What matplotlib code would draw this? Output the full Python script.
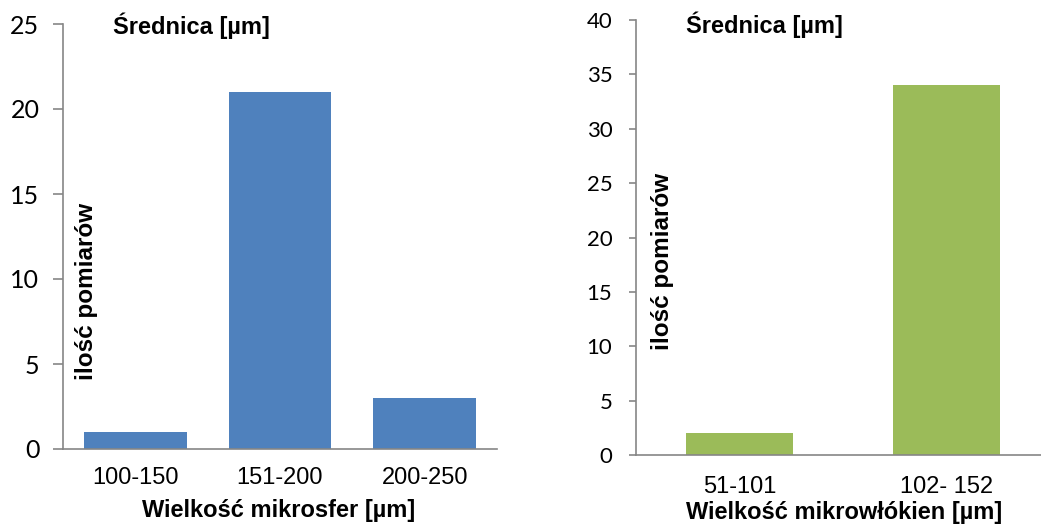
import matplotlib
matplotlib.use("Agg")
import matplotlib.pyplot as plt

# microsphere diameters
sphere_bins = ["100-150", "151-200", "200-250"]
sphere_counts = [1, 21, 3]

# microfibre diameters
fibre_bins = ["51-101", "102- 152"]
fibre_counts = [2, 34]

W, H = 1041, 528
fig = plt.figure(figsize=(W / 100, H / 100), dpi=100)

num_font = "Lato"
txt_font = "Liberation Sans"
axis_grey = "#868686"


def setup(ax, ymax, step, tick_size, tick_len, xpad):
    for s in ["top", "right"]:
        ax.spines[s].set_visible(False)
    for s in ["left", "bottom"]:
        ax.spines[s].set_color(axis_grey)
        ax.spines[s].set_linewidth(1.2)
    ax.set_ylim(0, ymax)
    ax.set_yticks(range(0, ymax + 1, step))
    ax.tick_params(axis="y", direction="out", length=tick_len, color=axis_grey, width=1.2,
                   labelsize=tick_size, pad=17 - tick_len)
    ax.tick_params(axis="x", length=0, labelsize=17, pad=xpad)
    for lb in ax.get_yticklabels():
        lb.set_fontfamily(num_font)
    for lb in ax.get_xticklabels():
        lb.set_fontfamily(txt_font)


# left panel
ax1 = fig.add_axes([63 / W, (H - 449) / H, (497 - 63) / W, (449 - 24) / H])
ax1.bar(range(len(sphere_counts)), sphere_counts, width=0.71, color="#4F81BD")
ax1.set_xlim(-0.5, len(sphere_counts) - 0.5)
ax1.set_xticks(range(len(sphere_bins)))
ax1.set_xticklabels(sphere_bins)
setup(ax1, 25, 5, 18, 7, 13)
ax1.text(0.115, 0.995, "Średnica [µm]", transform=ax1.transAxes, ha="left", va="center",
         fontsize=17, fontweight="bold", family=txt_font)
ax1.text(0.053, 0.37, "ilość pomiarów", transform=ax1.transAxes, ha="center", va="center",
         rotation=90, fontsize=17.5, fontweight="bold", family=txt_font)
fig.text(279 / W, 1 - 510 / H, "Wielkość mikrosfer [µm]", ha="center", va="center",
         fontsize=17, fontweight="bold", family=txt_font)

# right panel
ax2 = fig.add_axes([636 / W, (H - 455) / H, (1050 - 636) / W, (455 - 20) / H])
ax2.bar(range(len(fibre_counts)), fibre_counts, width=0.52, color="#9BBB59")
ax2.set_xlim(-0.5, len(fibre_counts) - 0.5)
ax2.set_xticks(range(len(fibre_bins)))
ax2.set_xticklabels(fibre_bins)
setup(ax2, 40, 5, 16, 5, 15)
ax2.text(0.12, 0.99, "Średnica [µm]", transform=ax2.transAxes, ha="left", va="center",
         fontsize=17, fontweight="bold", family=txt_font)
ax2.text(0.065, 0.445, "ilość pomiarów", transform=ax2.transAxes, ha="center", va="center",
         rotation=90, fontsize=17.5, fontweight="bold", family=txt_font)
fig.text(844 / W, 1 - 513 / H, "Wielkość mikrowłókien [µm]", ha="center", va="center",
         fontsize=17, fontweight="bold", family=txt_font)

fig.savefig("out.png", dpi=100)
